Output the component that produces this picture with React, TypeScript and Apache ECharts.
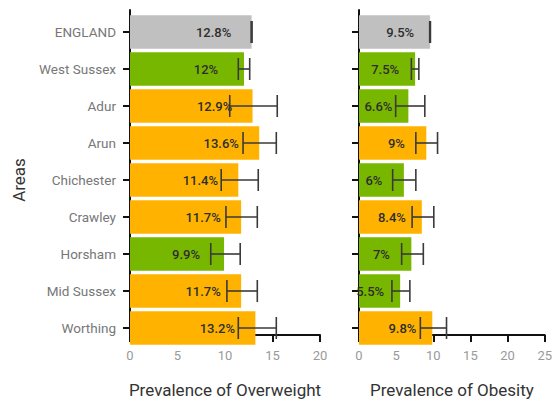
import React, { useEffect, useRef } from "react";
import * as echarts from "echarts";

const areas = ["ENGLAND", "West Sussex", "Adur", "Arun", "Chichester", "Crawley", "Horsham", "Mid Sussex", "Worthing"];

const overweight = [12.8, 12, 12.9, 13.6, 11.4, 11.7, 9.9, 11.7, 13.2];
const overweightLow = [12.75, 11.4, 10.5, 11.9, 9.6, 10.1, 8.5, 10.2, 11.4];
const overweightHigh = [12.85, 12.6, 15.5, 15.4, 13.5, 13.4, 11.6, 13.4, 15.4];
const overweightGroup = ["benchmark", "better", "similar", "similar", "similar", "similar", "better", "similar", "similar"];

const obesity = [9.5, 7.5, 6.6, 9, 6, 8.4, 7, 5.5, 9.8];
const obesityLow = [9.45, 7.0, 4.9, 7.6, 4.5, 7.1, 5.7, 4.4, 8.2];
const obesityHigh = [9.55, 8.0, 8.8, 10.5, 7.6, 10.0, 8.6, 6.8, 11.7];
const obesityGroup = ["benchmark", "better", "better", "similar", "better", "similar", "better", "better", "similar"];

const overweightTicks = [0, 5, 10, 15, 20];
const obesityTicks = [0, 5, 10, 15, 20, 25];

const groupColors: Record<string, string> = {
  benchmark: "#c0c0c0",
  better: "#78b700",
  similar: "#ffb300",
};

const FONT = "Roboto";

function errorSeries(low: number[], high: number[], xi: number, yi: number) {
  return {
    type: "custom",
    xAxisIndex: xi,
    yAxisIndex: yi,
    z: 5,
    data: areas.map((_, i) => [i, low[i], high[i]]),
    encode: { x: [1, 2], y: 0 },
    renderItem: (params: any, api: any) => {
      const c = api.value(0);
      const lo = api.coord([api.value(1), c]);
      const hi = api.coord([api.value(2), c]);
      const h = 11;
      const style = { stroke: "#3a3a3a", lineWidth: 1.6 };
      return {
        type: "group",
        children: [
          { type: "line", shape: { x1: lo[0], y1: lo[1], x2: hi[0], y2: hi[1] }, style },
          { type: "line", shape: { x1: lo[0], y1: lo[1] - h, x2: lo[0], y2: lo[1] + h }, style },
          { type: "line", shape: { x1: hi[0], y1: hi[1] - h, x2: hi[0], y2: hi[1] + h }, style },
        ],
      };
    },
  };
}

function barSeries(values: number[], groups: string[], xi: number, yi: number, labelShift: number) {
  return {
    type: "bar",
    xAxisIndex: xi,
    yAxisIndex: yi,
    barCategoryGap: "10%",
    data: values.map((v, i) => ({ value: v, itemStyle: { color: groupColors[groups[i]] } })),
    label: {
      show: true,
      position: ["100%", "50%"],
      offset: [labelShift, 0],
      align: "center",
      verticalAlign: "middle",
      formatter: (p: any) => p.value + "%",
      color: "#2e2e2e",
      fontFamily: FONT,
      fontSize: 13,
      fontWeight: 500,
    },
  };
}

function frameY(gridIndex: number) {
  return {
    gridIndex,
    type: "value",
    min: 0,
    max: 1,
    axisLine: { show: true, onZero: false, lineStyle: { color: "#111", width: 2 } },
    axisTick: { show: false },
    axisLabel: { show: false },
    splitLine: { show: false },
  };
}

function frameX(gridIndex: number, max: number, name: string) {
  return {
    gridIndex,
    type: "value",
    min: 0,
    max,
    interval: 5,
    name,
    nameLocation: "middle",
    nameGap: 46,
    nameTextStyle: { color: "#333", fontSize: 17, fontFamily: FONT },
    axisLine: { show: true, onZero: false, lineStyle: { color: "#111", width: 2 } },
    axisTick: { show: true, length: 7, lineStyle: { color: "#111", width: 2 } },
    axisLabel: { color: "#9a9a9a", fontSize: 13, margin: 14, fontFamily: FONT },
    splitLine: { show: false },
  };
}

function catY(gridIndex: number, showLabels: boolean) {
  return {
    gridIndex,
    type: "category",
    data: areas,
    inverse: true,
    name: showLabels ? "Areas" : "",
    nameLocation: "middle",
    nameRotate: 90,
    nameGap: 103,
    nameTextStyle: { color: "#333", fontSize: 17, fontFamily: FONT },
    axisLine: { show: false },
    axisTick: { show: true, alignWithLabel: true, length: 7, lineStyle: { color: "#111", width: 2 } },
    axisLabel: { show: showLabels, color: "#777", fontSize: 13.5, margin: 14, fontFamily: FONT },
    splitLine: { show: false },
  };
}

function hiddenX(gridIndex: number, max: number) {
  return { gridIndex, type: "value", min: 0, max, show: false, splitLine: { show: false } };
}

export default function App() {
  const ref = useRef<HTMLDivElement>(null);
  useEffect(() => {
    if (!ref.current) return;
    const chart = echarts.init(ref.current, null, { renderer: "svg" });
    const pxLeft = 190 / overweightTicks[overweightTicks.length - 1];
    const pxRight = 187 / obesityTicks[obesityTicks.length - 1];
    chart.setOption({
      animation: false,
      textStyle: { fontFamily: FONT },
      grid: [
        { left: 130, top: 10, width: 190, height: 341 },
        { left: 130, top: 13.5, width: 190, height: 333 },
        { left: 359, top: 10, width: 187, height: 341 },
        { left: 359, top: 13.5, width: 187, height: 333 },
      ],
      xAxis: [
        frameX(0, overweightTicks[overweightTicks.length - 1], "Prevalence of Overweight"),
        hiddenX(1, overweightTicks[overweightTicks.length - 1]),
        frameX(2, obesityTicks[obesityTicks.length - 1], "Prevalence of Obesity"),
        hiddenX(3, obesityTicks[obesityTicks.length - 1]),
      ],
      yAxis: [frameY(0), catY(1, true), frameY(2), catY(3, false)],
      series: [
        barSeries(overweight, overweightGroup, 1, 1, -4 * pxLeft),
        errorSeries(overweightLow, overweightHigh, 1, 1),
        barSeries(obesity, obesityGroup, 3, 3, -4 * pxRight),
        errorSeries(obesityLow, obesityHigh, 3, 3),
      ],
    });
    return () => chart.dispose();
  }, []);
  return <div ref={ref} style={{ width: 555, height: 403, position: "absolute", left: 0, top: 0 }} />;
}
